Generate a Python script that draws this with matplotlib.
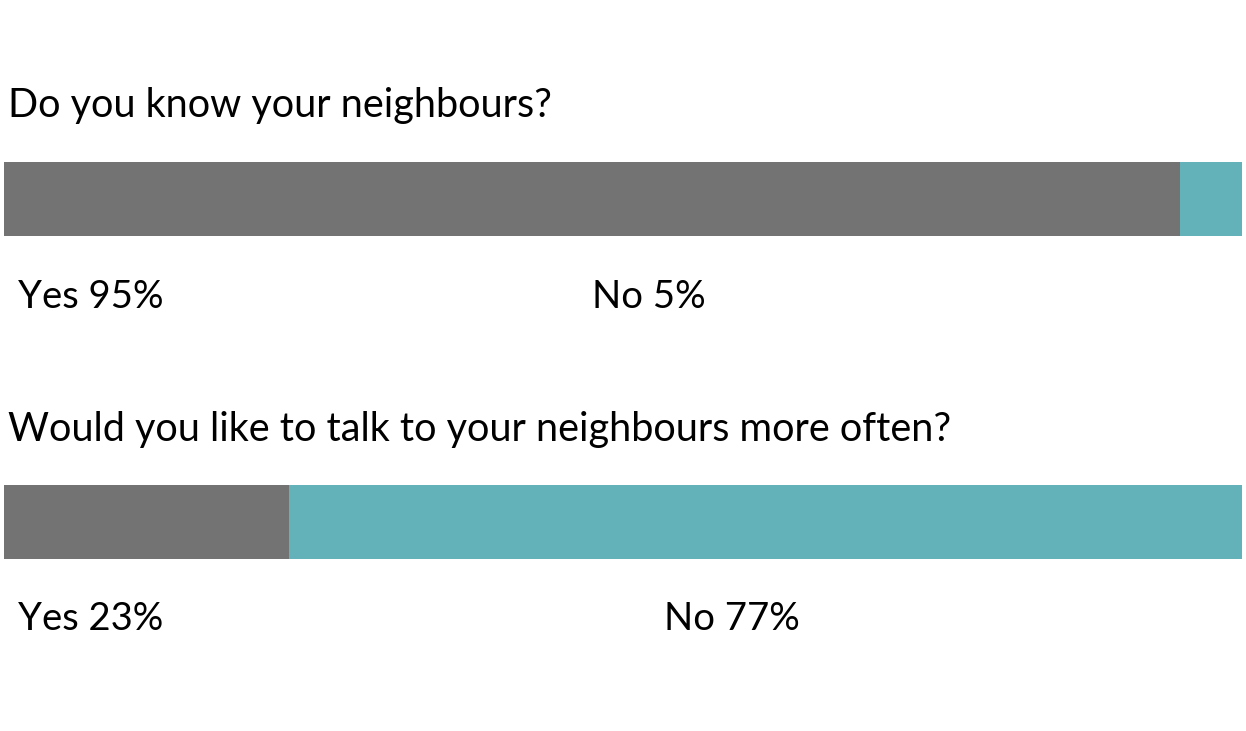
import matplotlib
matplotlib.use("Agg")
import matplotlib.pyplot as plt

questions = ["Do you know your neighbours?", "Would you like to talk to your neighbours more often?"]
yes_values = [95, 23]
no_values = [5, 77]
yes_labels = ["Yes 95%", "Yes 23%"]
no_labels = ["No 5%", "No 77%"]

GRAY = "#737373"
TEAL = "#64b2b9"
W, H = 1246, 731
plt.rcParams['font.family'] = ['Lato', 'DejaVu Sans']

fig = plt.figure(figsize=(W / 100, H / 100), dpi=100)
ax = fig.add_axes([4 / W, 0, 1238 / W, 1])
ax.set_xlim(0, 100)
ax.set_ylim(H, 0)
ax.axis('off')

bar_centers = [199, 522]
bar_h = 74
title_y = [105, 430]
label_y = [297, 619]
no_x = [592, 664]

for i in range(2):
    ax.barh(bar_centers[i], yes_values[i], height=bar_h, left=0, color=GRAY)
    ax.barh(bar_centers[i], no_values[i], height=bar_h, left=yes_values[i], color=TEAL)
    fig.text(8 / W, 1 - title_y[i] / H, questions[i], fontsize=28.5, va='center', ha='left', color='black')
    fig.text(18 / W, 1 - label_y[i] / H, yes_labels[i], fontsize=27.5, va='center', ha='left', color='black')
    fig.text(no_x[i] / W, 1 - label_y[i] / H, no_labels[i], fontsize=27.5, va='center', ha='left', color='black')

fig.savefig("out.png", dpi=100, facecolor='white')
